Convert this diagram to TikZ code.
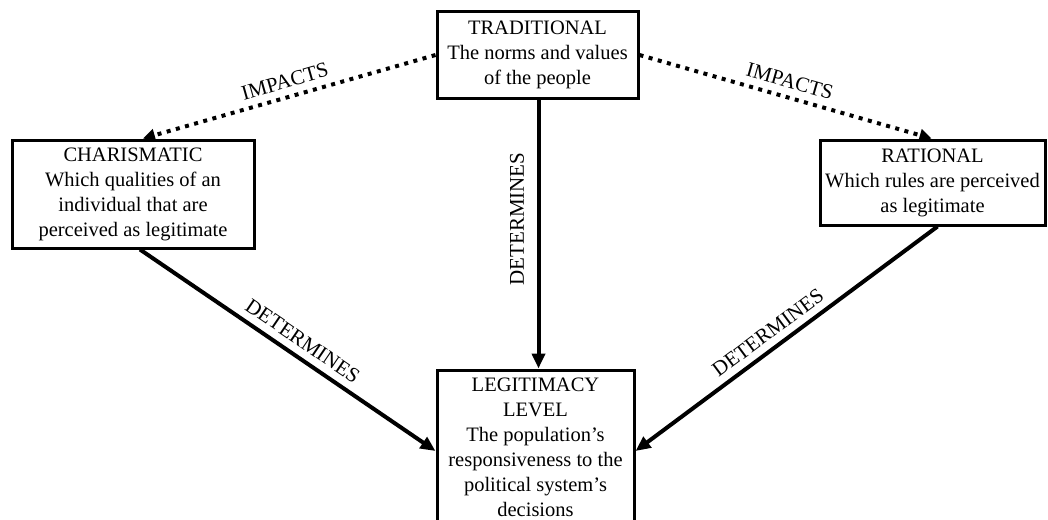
\documentclass[tikz,border=0pt]{standalone}
\usepackage{fontspec}
\setmainfont{Liberation Serif}
\usetikzlibrary{arrows.meta}
\begin{document}
\begin{tikzpicture}[x=1pt,y=-1pt,
  box/.style={draw, line width=3pt, align=center, inner sep=0pt,
    font=\fontsize{20.5}{25}\selectfont, anchor=center},
  solidarrow/.style={line width=4pt, -{Triangle[length=15pt,width=13pt]}},
  dotarrow/.style={line width=4pt, dash pattern=on 4pt off 5.5pt, -{Triangle[length=12pt,width=12pt]}},
  lbl/.style={font=\fontsize{21}{24}\selectfont, inner sep=7pt}]
\useasboundingbox (0,0) rectangle (1048,519);
\node[box, minimum width=201pt, minimum height=86pt] (trad) at (537.5,55)
  {TRADITIONAL\\The norms and values\\of the people};
\node[box, minimum width=242pt, minimum height=108pt] (char) at (133,194)
  {CHARISMATIC\\Which qualities of an\\individual that are\\perceived as legitimate};
\node[box, minimum width=225pt, minimum height=85pt] (rat) at (932.5,182.5)
  {RATIONAL\\Which rules are perceived\\as legitimate};
\node[box, minimum width=197pt, minimum height=154pt, text depth=0pt] (leg) at (535.5,447)
  {LEGITIMACY\\LEVEL\\The population’s\\responsiveness to the\\political system’s\\decisions};
\draw[dotarrow] (trad.west) -- node[lbl, sloped, above, pos=0.5] (l1) {IMPACTS} ([xshift=10pt]char.north);
\draw[dotarrow] (trad.east) -- node[lbl, sloped, above, pos=0.5] (l2) {IMPACTS} ([xshift=-1pt]rat.north);
\draw[solidarrow] ([xshift=1pt]trad.south) -- ([xshift=3pt]leg.north);
\node[lbl, rotate=90] (l3) at (517,219) {DETERMINES};
\draw[solidarrow] ([xshift=7pt]char.south) -- node[lbl, sloped, above, pos=0.52] (l4) {DETERMINES} ([yshift=-4pt]leg.west);
\draw[solidarrow] ([xshift=5pt]rat.south) -- node[lbl, sloped, above, pos=0.53] (l5) {DETERMINES} ([yshift=-4pt]leg.east);
\end{tikzpicture}
\end{document}
